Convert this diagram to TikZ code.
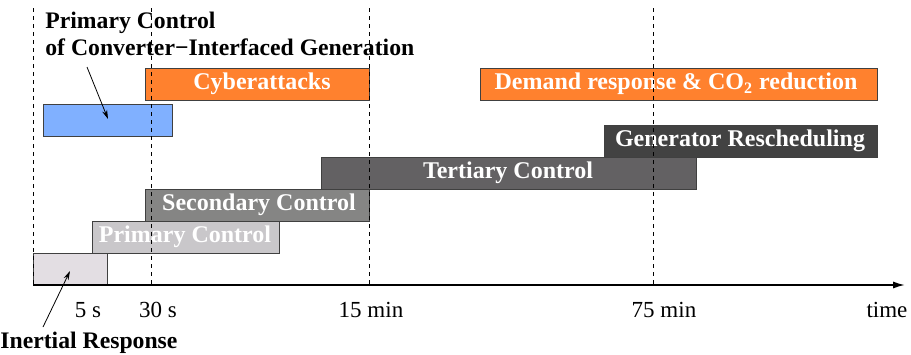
\documentclass[tikz,border=0pt]{standalone}
\usepackage{fontspec}
\setmainfont{Liberation Serif}
\usetikzlibrary{arrows.meta}

\definecolor{inertgray}{RGB}{227,222,227}
\definecolor{primgray}{RGB}{201,199,202}
\definecolor{secgray}{RGB}{133,133,132}
\definecolor{tertgray}{RGB}{99,97,99}
\definecolor{gengray}{RGB}{66,66,66}
\definecolor{attackorange}{RGB}{255,129,46}
\definecolor{convblue}{RGB}{128,176,255}

\begin{document}
\begin{tikzpicture}[x=0.5pt, y=-0.5pt,
    bar/.style={draw=black!75, line width=0.5pt},
    barlabel/.style={text=white, font=\fontsize{12}{14}\selectfont\bfseries},
    ticklabel/.style={anchor=base, font=\fontsize{11.5}{13}\selectfont},
    note/.style={inner sep=0pt, font=\fontsize{11.85}{13.5}\selectfont\bfseries},
    guide/.style={dash pattern=on 2pt off 2pt, line width=0.45pt},
    pointer/.style={line width=0.4pt, -{Stealth[length=4.5pt, width=2.6pt]}}]

  \small

  \newcommand\Ax{285};
  \newcommand\Tp{8};

  \useasboundingbox (0,0) rectangle (911,354);

  % bars
  \draw[bar, fill=inertgray] (33,253) rectangle (107,\Ax);
  \draw[bar, fill=primgray] (92,221) rectangle (279,253);
  \draw[bar, fill=secgray] (145,189) rectangle (369,221);
  \draw[bar, fill=tertgray] (321,157) rectangle (696,189);
  \draw[bar, fill=gengray] (604,125) rectangle (877,157);
  \draw[bar, fill=convblue] (43,104) rectangle (172,136);
  \draw[bar, fill=attackorange] (145,68) rectangle (369,100);
  \draw[bar, fill=attackorange] (480,68) rectangle (877,100);

  \node[barlabel] (prim) at (185,237) {Primary Control};
  \node[barlabel] (sec) at (259,205) {Secondary Control};
  \node[barlabel] (tert) at (508,173) {Tertiary Control};
  \node[barlabel] (gen) at (740,141) {Generator Rescheduling};
  \node[barlabel] (cyber) at (262,84) {Cyberattacks};
  \node[barlabel] (demand) at (676,84) {Demand response \& CO\textsubscript{2} reduction};

  % time guides
  \foreach \t in {33,151,369,653}
    \draw[guide] (\t,\Tp) -- (\t,\Ax);

  % axis
  \coordinate (origin) at (33,\Ax);
  \coordinate (tend) at (905,\Ax);
  \draw[line width=0.9pt, -{Latex[length=6pt, width=3.6pt]}] (origin) -- (tend);

  \node[ticklabel] (t5s) at (88,317) {5 s};
  \node[ticklabel] (t30s) at (158,317) {30 s};
  \node[ticklabel] (t15m) at (371,317) {15 min};
  \node[ticklabel] (t75m) at (664,317) {75 min};
  \node[ticklabel] (ttime) at (887,317) {time};

  % notes
  \node[note, anchor=north west, align=left] (conv) at (45,12)
    {Primary Control\\of Converter\textminus Interfaced Generation};
  \coordinate (convfrom) at (87,67);
  \coordinate (convto) at (108,119);
  \draw[pointer] (convfrom) -- (convto);

  \node[note, anchor=base west] (inert) at (0,348) {Inertial Response};
  \coordinate (inertfrom) at (43,327);
  \coordinate (inertto) at (70,271);
  \draw[pointer] (inertfrom) -- (inertto);

\end{tikzpicture}
\end{document}
